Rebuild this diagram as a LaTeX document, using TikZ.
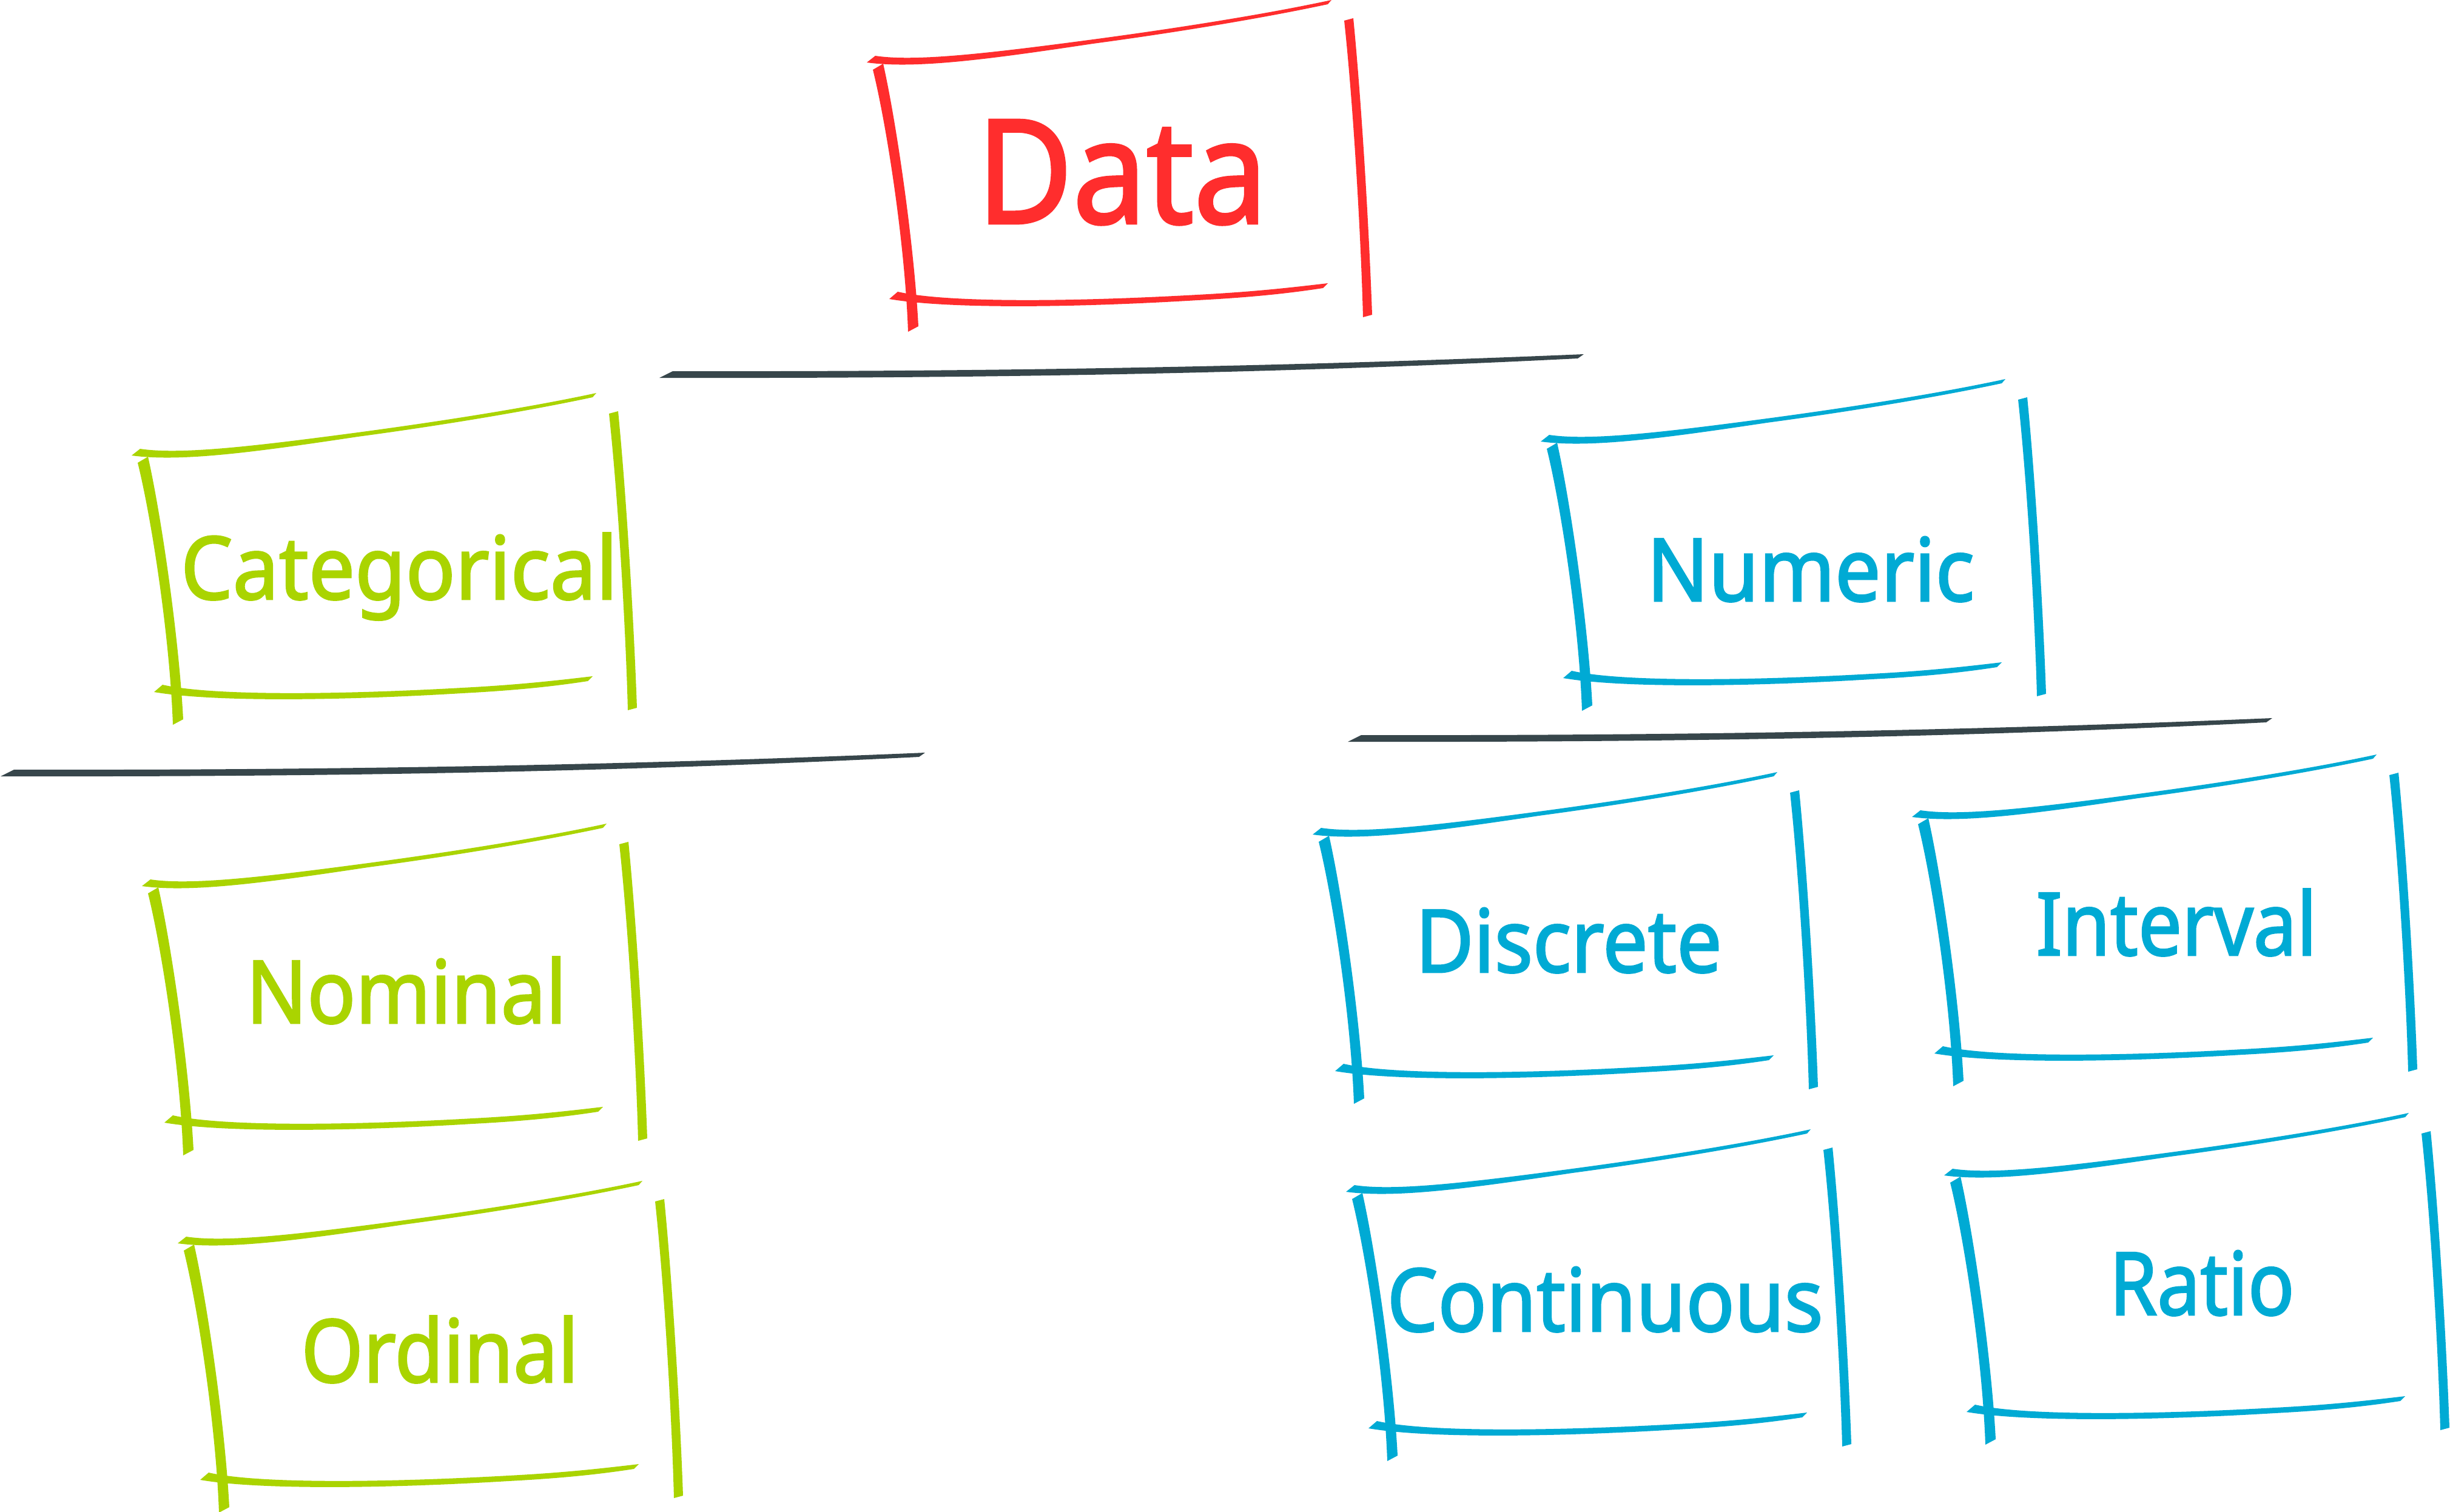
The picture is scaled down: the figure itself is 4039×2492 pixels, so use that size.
\documentclass[tikz,border=0pt]{standalone}
\usepackage{fontspec}
\usepackage{graphicx}
\setmainfont{Noto Sans}[FakeBold=2]
\definecolor{cred}{HTML}{FF2D2D}
\definecolor{cgreen}{HTML}{AAD400}
\definecolor{cblue}{HTML}{00AAD4}
\definecolor{cbar}{HTML}{37464B}
\newcommand\fitw[2]{\resizebox{#1pt}{\height}{#2}}
\tikzset{
  sketchbox/.pic={
    % top stroke
    \fill (14,-11) .. controls (80,-1) and (200,-15) .. (373,-38)
          .. controls (500,-55) and (650,-78) .. (766,-103) -- (760,-96)
          .. controls (648,-72) and (500,-48) .. (373,-31)
          .. controls (200,-5) and (80,11) .. (0,0) -- cycle;
    % left stroke
    \fill (10,12) .. controls (33,105) and (63,300) .. (68,444) -- (85,435)
          .. controls (78,300) and (49,100) .. (27,2) -- cycle;
    % bottom stroke
    \fill (51,378) .. controls (130,396) and (330,395) .. (545,383)
          .. controls (640,378) and (700,371) .. (760,364) -- (752,372)
          .. controls (700,380) and (640,387) .. (545,392)
          .. controls (330,405) and (130,406) .. (37,390) -- cycle;
    % right stroke
    \fill (787,-69) .. controls (803,80) and (815,300) .. (818,420) -- (833,416)
          .. controls (829,300) and (817,80) .. (802,-73) -- cycle;
  },
  levelbar/.pic={
    \fill (22,-11) .. controls (500,-10) and (1000,-17) .. (1524,-39) -- (1514,-32)
          .. controls (1000,-6) and (500,1) .. (0,0) -- cycle;
  },
  lbl/.style={anchor=base, inner sep=0pt, outer sep=0pt},
  smalltext/.style={font=\fontsize{144}{150}\selectfont},
  bigtext/.style={font=\fontsize{238}{250}\selectfont},
}
\begin{document}
\begin{tikzpicture}[x=1pt,y=-1pt]
\useasboundingbox (0,0) rectangle (4039,2492);
% level bars
\pic[color=cbar] at (1087,623) {levelbar};
\pic[color=cbar] at (1,1280) {levelbar};
\pic[color=cbar] at (2222,1223) {levelbar};
% boxes
\pic[color=cred]   at (1429,103)  {sketchbox};
\pic[color=cgreen] at (217,751)   {sketchbox};
\pic[color=cblue]  at (2540,728)  {sketchbox};
\pic[color=cgreen] at (234,1461)  {sketchbox};
\pic[color=cgreen] at (293,2050)  {sketchbox};
\pic[color=cblue]  at (2164,1376) {sketchbox};
\pic[color=cblue]  at (3152,1347) {sketchbox};
\pic[color=cblue]  at (2219,1965) {sketchbox};
\pic[color=cblue]  at (3205,1938) {sketchbox};
% labels
\node[lbl,bigtext,text=cred]     (data)        at (1850,368)  {\fitw{479}{Data}};
\node[lbl,smalltext,text=cgreen] (categorical) at (658,988)   {\fitw{720}{Categorical}};
\node[lbl,smalltext,text=cblue]  (numeric)     at (2985,991)  {\fitw{540}{Numeric}};
\node[lbl,smalltext,text=cgreen] (nominal)     at (670,1687)  {\fitw{528}{Nominal}};
\node[lbl,smalltext,text=cgreen] (ordinal)     at (725,2279)  {\fitw{457}{Ordinal}};
\node[lbl,smalltext,text=cblue]  (discrete)    at (2586,1603) {\fitw{505}{Discrete}};
\node[lbl,smalltext,text=cblue]  (interval)    at (3588,1575) {\fitw{463}{Interval}};
\node[lbl,smalltext,text=cblue]  (continuous)  at (2646,2195) {\fitw{719}{Continuous}};
\node[lbl,smalltext,text=cblue]  (ratio)       at (3630,2168) {\fitw{305}{Ratio}};
\end{tikzpicture}
\end{document}
